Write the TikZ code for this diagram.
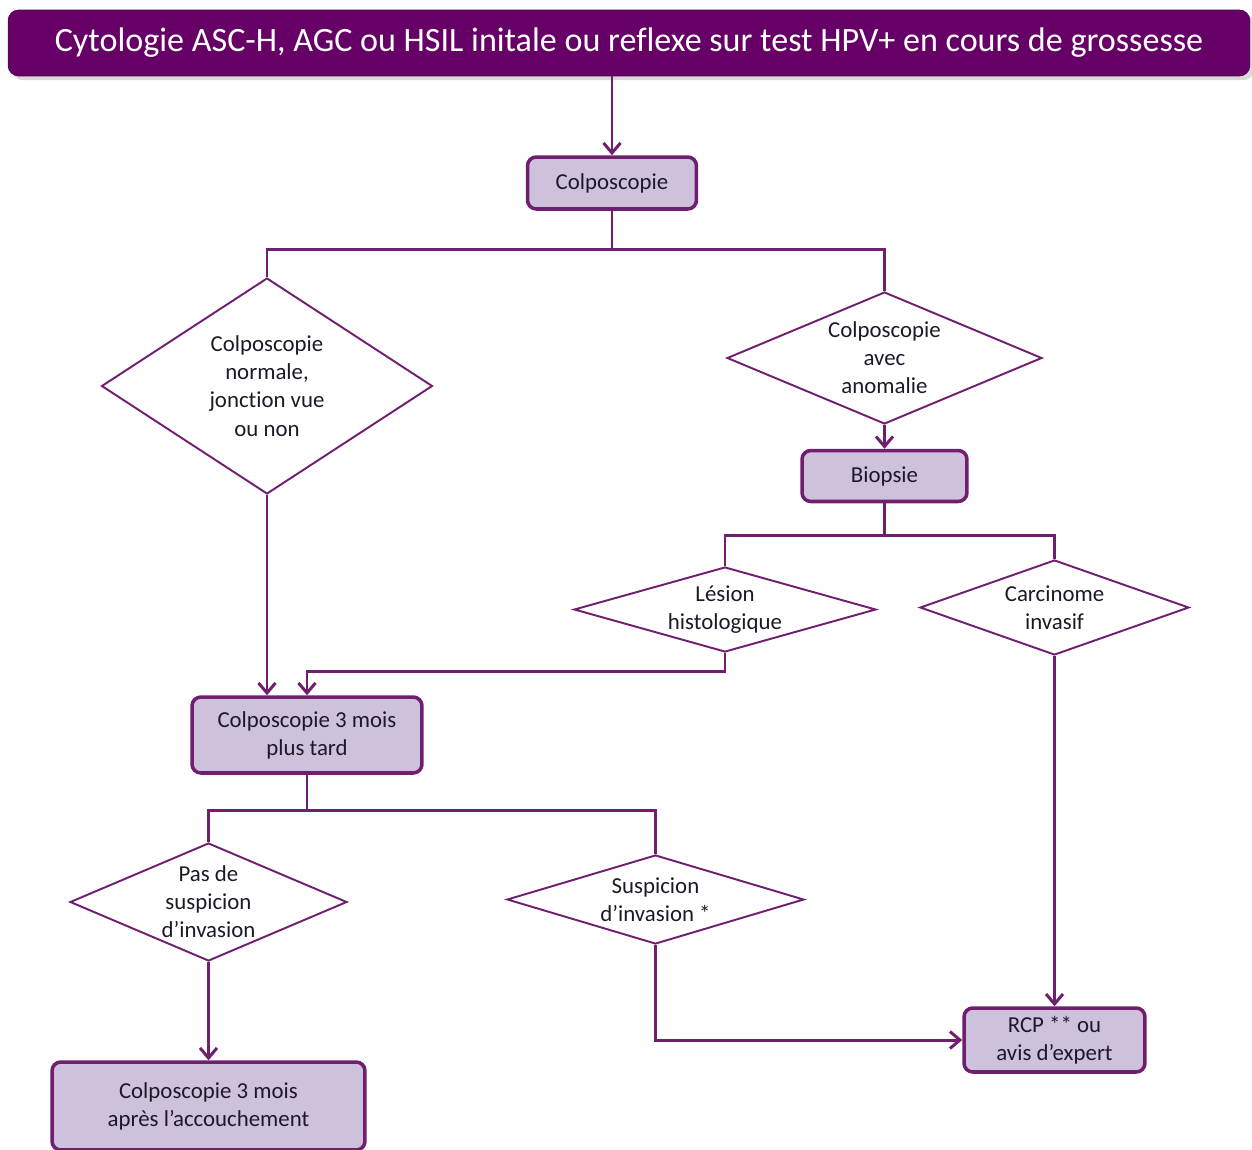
\documentclass[tikz,border=0pt]{standalone}
\usepackage{fontspec}
\setmainfont{Carlito}[Ligatures=NoCommon]
\usetikzlibrary{arrows.meta,shapes.geometric,shadows}

\definecolor{prune}{RGB}{102,0,102}
\definecolor{lien}{RGB}{112,30,112}
\definecolor{lavande}{RGB}{205,193,219}
\definecolor{encre}{RGB}{30,25,40}

\tikzset{
    boite/.style={draw=lien, line width=2pt, fill=lavande, rounded corners=5pt,
        align=center, text=encre, font=\fontsize{13}{16}\selectfont},
    losange/.style={draw=lien, line width=1.1pt, diamond, inner sep=0pt, fill=white},
    texte/.style={align=center, text=encre, font=\fontsize{13}{16}\selectfont},
    fleche/.style={draw=lien, line width=1.7pt, -{Straight Barb[length=2mm,width=3.4mm]}},
    trait/.style={draw=lien, line width=1.7pt},
}

\begin{document}
\begin{tikzpicture}[x=0.02cm,y=-0.02cm]
        \useasboundingbox (0,0) rectangle (1252,1150);
        % Draw title banner
        \node[fill=prune, draw=prune!80!black, rounded corners=6pt, minimum width=24.84cm, minimum height=1.32cm,
            text=white, font=\fontsize{19.4}{23}\selectfont, drop shadow={opacity=0.3}] (titre) at (629,43)
            {Cytologie ASC-H, AGC ou HSIL initale ou reflexe sur test HPV+ en cours de grossesse};
        % Draw first colposcopy
        \node[boite, minimum width=3.38cm, minimum height=1.04cm] (colpo) at (612,183) {Colposcopie};
        % Draw first decisions
        \node[losange, minimum width=6.62cm, minimum height=4.32cm,
            label={[texte]center:{Colposcopie\\normale,\\jonction vue\\ou non}}] (normale) at (267,386) {};
        \node[losange, minimum width=6.3cm, minimum height=2.64cm,
            label={[texte]center:{Colposcopie\\avec\\anomalie}}] (anomalie) at (884.5,358) {};
        % Draw biopsy
        \node[boite, minimum width=3.3cm, minimum height=1.02cm] (biopsie) at (884.5,476) {Biopsie};
        \node[losange, minimum width=6.04cm, minimum height=1.7cm,
            label={[texte]center:{Lésion\\histologique}}] (lesion) at (725,609.5) {};
        \node[losange, minimum width=5.38cm, minimum height=1.9cm,
            label={[texte]center:{Carcinome\\invasif}}] (carcinome) at (1054.5,607.5) {};
        % Draw second colposcopy
        \node[boite, minimum width=4.6cm, minimum height=1.52cm] (trois) at (307,735) {Colposcopie 3 mois\\plus tard};
        \node[losange, minimum width=5.54cm, minimum height=2.36cm,
            label={[texte]center:{Pas de\\suspicion\\d’invasion}}] (pasinv) at (208.5,902) {};
        \node[losange, minimum width=5.94cm, minimum height=1.78cm,
            label={[texte]center:{Suspicion\\d’invasion *}}] (susinv) at (655.5,899.5) {};
        % Draw outcomes
        \node[boite, minimum width=6.26cm, minimum height=1.76cm] (accouch) at (208.5,1106) {Colposcopie 3 mois\\après l’accouchement};
        \node[boite, minimum width=3.62cm, minimum height=1.28cm] (rcp) at (1054.5,1040) {RCP ** ou\\avis d’expert};
        % Draw connectors
        \draw[fleche] (colpo.north |- titre.south) -- (colpo.north);
        \draw[trait] (colpo.south) -- ++(0,39) -| (normale.north);
        \draw[trait] (colpo.south) -- ++(0,39) -| (anomalie.north);
        \draw[fleche] (anomalie.south) -- (biopsie.north);
        \draw[trait] (biopsie.south) -- ++(0,32) -| (lesion.north);
        \draw[trait] (biopsie.south) -- ++(0,32) -| (carcinome.north);
        \draw[fleche] (normale.south) -- (normale.south |- trois.north);
        \draw[fleche] (lesion.south) -- ++(0,19) -| (trois.north);
        \draw[trait] (trois.south) -- ++(0,36) -| (pasinv.north);
        \draw[trait] (trois.south) -- ++(0,36) -| (susinv.north);
        \draw[fleche] (pasinv.south) -- (accouch.north);
        \draw[fleche] (susinv.south) |- (rcp.west);
        \draw[fleche] (carcinome.south) -- (rcp.north);
    \end{tikzpicture}
\end{document}
